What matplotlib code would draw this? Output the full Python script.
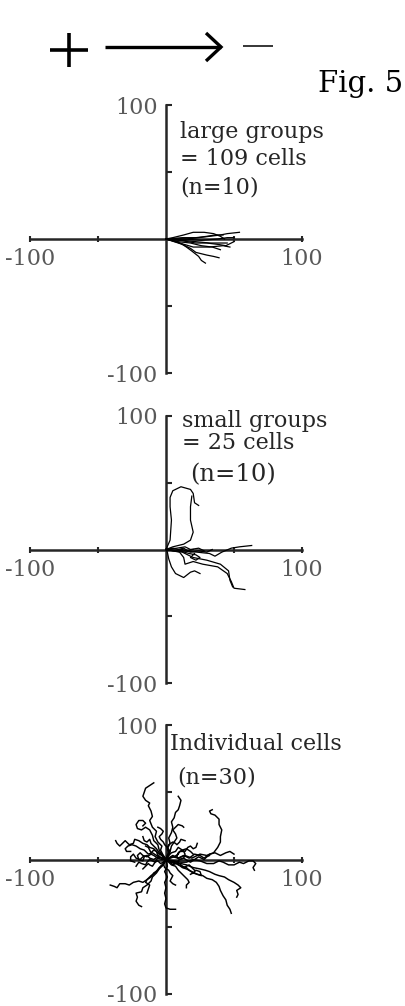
import matplotlib
matplotlib.use("Agg")
import matplotlib.pyplot as plt
from matplotlib.lines import Line2D

plt.rcParams["font.family"] = ["DejaVu Serif"]

# ── Trajectory data (µm, start at origin) ─────────────────────────────────────
LARGE_TRACKS = [
    [(0, 0), (5, 1), (13, 3), (20, 5), (28, 5), (35, 4), (40, 2), (43, 0)],
    [(0, 0), (8, 0), (15, 0), (24, 1), (32, 2), (40, 3), (45, 4), (54, 5)],
    [(0, 0), (4, -1), (8, -2), (12, -4), (15, -6), (19, -9), (24, -13), (26, -16), (29, -18)],
    [(0, 0), (6, -2), (12, -4), (18, -7), (22, -10), (30, -12), (35, -13), (39, -14)],
    [(0, 0), (10, -3), (20, -6), (32, -6), (42, -5), (47, -6)],
    [(0, 0), (12, -1), (22, -2), (32, -3), (40, -3), (45, -3)],
    [(0, 0), (14, 0), (26, -1), (38, 0), (45, 1), (50, 1)],
    [(0, 0), (10, -1), (22, -3), (30, -3), (38, -4), (44, -5), (50, -2)],
    [(0, 0), (12, 1), (22, 1), (30, 2), (36, 3), (42, 3)],
    [(0, 0), (9, -2), (18, -3), (26, -5), (34, -6), (40, -8)],
]

SMALL_TRACKS = [
    [(0, 0), (3, 7), (4, 22), (3, 32), (3, 39), (5, 44), (11, 47), (18, 45), (20, 42), (21, 35), (24, 33)],
    [(0, 0), (5, 2), (13, 4), (18, 7), (20, 13), (18, 22), (18, 32), (19, 40)],
    [(0, 0), (1, -2), (2, -7), (4, -13), (7, -18), (13, -21), (18, -17), (21, -16), (25, -18)],
    [(0, 0), (10, -2), (13, -6), (14, -11), (20, -9), (27, -11), (38, -13), (45, -18), (48, -24),
     (50, -29), (58, -30)],
    [(0, 0), (12, -2), (20, -6), (30, -8), (40, -11), (46, -16), (47, -23), (49, -28)],
    [(0, 0), (12, -1), (23, -2), (32, -3), (36, -5), (41, -2), (48, 1), (54, 2), (63, 3)],
    [(0, 0), (8, 1), (14, 2), (18, 0), (24, 1), (28, -1)],
    [(0, 0), (10, -1), (17, -3), (22, -4), (25, -6), (22, -8), (18, -6), (21, -3)],
    [(0, 0), (6, -1), (12, 0), (18, -2), (24, -1), (30, -2), (34, 0)],
    [(0, 0), (5, 1), (9, 0), (13, 1), (16, -1), (20, 0)],
]

SINGLE_TRACKS = [
    [(0, 0), (-2, 3), (-4, 7), (-3, 10), (-6, 13), (-8, 17), (-7, 21), (-10, 24), (-12, 29), (-10, 32),
     (-11, 36), (-13, 40), (-12, 42), (-15, 44), (-17, 47), (-16, 50), (-15, 53), (-12, 55), (-9, 57)],
    [(0, 0), (2, 4), (1, 8), (3, 12), (2, 16), (4, 20), (5, 24), (4, 28), (6, 31), (7, 35), (9, 37),
     (10, 40), (11, 44), (9, 47)],
    [(0, 0), (5, 3), (9, 1), (14, 3), (19, 1), (25, 4), (30, 3), (35, 5), (38, 9), (40, 13), (40, 17),
     (41, 22), (39, 26), (39, 30), (36, 33), (33, 34), (32, 36), (34, 37)],
    [(0, 0), (-3, 3), (-6, 5), (-9, 8), (-12, 9), (-14, 11), (-17, 12), (-20, 14), (-23, 15), (-24, 12),
     (-27, 11), (-30, 14), (-32, 12), (-34, 10), (-36, 12), (-37, 14)],
    [(0, 0), (-3, 3), (-5, 7), (-6, 11), (-9, 14), (-10, 18), (-12, 22), (-15, 24), (-18, 22), (-21, 23),
     (-22, 26), (-20, 29), (-17, 29), (-15, 27), (-17, 25)],
    [(0, 0), (-2, -4), (-5, -6), (-8, -10), (-11, -12), (-14, -15), (-17, -17), (-20, -16), (-24, -17),
     (-27, -19), (-30, -18), (-34, -18), (-36, -21), (-38, -20), (-41, -19)],
    [(0, 0), (-2, -4), (-5, -7), (-7, -10), (-10, -13), (-11, -16), (-14, -19), (-17, -21), (-18, -24),
     (-22, -25), (-21, -28), (-22, -31), (-20, -34), (-18, -35)],
    [(0, 0), (1, -5), (-1, -9), (1, -13), (-1, -17), (0, -21), (-1, -25), (0, -29), (-1, -33), (0, -36),
     (3, -37), (7, -37)],
    [(0, 0), (4, -2), (8, -3), (12, -6), (15, -7), (19, -9), (23, -11), (27, -12), (30, -14), (34, -15),
     (37, -17), (39, -20), (40, -23), (42, -27), (44, -30), (45, -34), (47, -37), (48, -40)],
    [(0, 0), (6, -3), (11, -3), (15, -4), (20, -6), (25, -7), (29, -8), (32, -9), (36, -11), (39, -12),
     (43, -13), (46, -15), (50, -17), (53, -19), (55, -21), (52, -23), (53, -26), (52, -28)],
    [(0, 0), (6, -1), (11, -2), (15, -2), (20, 0), (25, -1), (30, -3), (35, -3), (39, -1), (42, -2),
     (46, -4), (50, -4), (54, -2), (57, -3), (61, -1), (64, -1), (66, -3), (64, -6), (65, -8)],
    [(0, 0), (5, 2), (9, 1), (13, 3), (17, 1), (21, 4), (25, 3), (28, 1), (32, 4), (36, 5), (40, 3),
     (44, 5), (47, 6), (50, 4)],
    [(0, 0), (-2, -3), (-4, -5), (-6, -8), (-9, -10), (-11, -13), (-14, -15), (-15, -17), (-12, -19),
     (-13, -22), (-14, -25)],
    [(0, 0), (2, -2), (4, -4), (7, -5), (9, -8), (11, -10), (14, -13), (16, -15), (17, -17), (15, -19),
     (15, -21)],
    [(0, 0), (-3, 1), (-6, 2), (-9, 0), (-12, 1), (-14, 3), (-17, 2), (-19, 0), (-22, 1), (-24, 4),
     (-26, 2), (-26, -1), (-23, -2)],
    [(0, 0), (-2, 3), (-5, 5), (-7, 8), (-9, 10), (-11, 12), (-12, 15), (-14, 13), (-16, 14), (-17, 17)],
    [(0, 0), (-3, 1), (-7, 3), (-10, 5), (-13, 4), (-16, 7), (-19, 8), (-22, 10), (-25, 11), (-28, 10),
     (-30, 8), (-29, 6), (-26, 6)],
    [(0, 0), (2, 3), (4, 5), (7, 6), (9, 9), (12, 7), (14, 6), (16, 9), (18, 10), (20, 8), (22, 9), (23, 12)],
    [(0, 0), (-2, 2), (-3, 4), (-6, 3), (-7, 6), (-9, 7), (-11, 5), (-12, 7), (-13, 9), (-15, 10)],
    [(0, 0), (3, -2), (5, -4), (7, -3), (9, -2), (11, -4), (13, -6), (15, -5), (17, -4), (19, -6), (21, -8)],
    [(0, 0), (-2, -2), (-4, -3), (-6, -1), (-8, -2), (-10, -5), (-12, -4), (-13, -3), (-15, -5), (-17, -7)],
    [(0, 0), (2, 3), (3, 6), (1, 9), (2, 11), (5, 13), (7, 12), (8, 11), (10, 13), (11, 15), (14, 14)],
    [(0, 0), (-2, -3), (-1, -6), (2, -8), (3, -10), (5, -12), (4, -14), (3, -16), (5, -18), (7, -19)],
    [(0, 0), (3, 1), (6, 2), (9, 4), (10, 6), (13, 6), (14, 4), (13, 1), (10, 0), (8, 2), (9, 5), (12, 7),
     (15, 8), (18, 6), (20, 4)],
    [(0, 0), (-2, 1), (-5, 2), (-7, 0), (-8, -2), (-10, -1), (-12, 0), (-14, -2), (-15, -4), (-18, -3),
     (-20, -2), (-22, -5)],
    [(0, 0), (1, 3), (2, 6), (1, 9), (-1, 11), (-2, 13), (-4, 15), (-5, 17), (-3, 19), (-2, 21), (-4, 23),
     (-6, 24)],
    [(0, 0), (4, -1), (8, -2), (10, 0), (13, 1), (16, -1), (18, -2), (21, 0), (24, 2), (26, 1), (28, 0),
     (30, 2), (32, 3)],
    [(0, 0), (-3, 0), (-6, 1), (-9, 3), (-11, 4), (-14, 2), (-17, 3), (-19, 5), (-21, 3), (-20, 0),
     (-17, -1), (-16, 2)],
    [(0, 0), (3, -1), (6, -2), (9, -4), (12, -5), (15, -6), (17, -8), (20, -10), (23, -11), (26, -12),
     (25, -9), (22, -8), (20, -10), (18, -11)],
    [(0, 0), (1, 3), (3, 6), (4, 10), (6, 13), (8, 16), (7, 19), (5, 22), (7, 24), (9, 26), (12, 25),
     (13, 24)],
]

PANEL_TRACKS = [LARGE_TRACKS, SMALL_TRACKS, SINGLE_TRACKS]
TRACK_WIDTHS = [0.9, 0.9, 1.05]

# label lines: (text, x, baseline y, fontsize) in data units
PANEL_LABELS = [
    [("large groups", 10.3, 75.4, 16), ("= 109 cells", 10.3, 55.2, 16), ("(n=10)", 10.3, 34.3, 16)],
    [("small groups", 11.8, 91.4, 16), ("= 25 cells", 11.8, 75.0, 16), ("(n=10)", 17.6, 50.9, 17.5)],
    [("Individual cells", 2.9, 81.2, 16), ("(n=30)", 8.1, 56.8, 16)],
]

W, H = 406, 1006
# axes boxes in pixels (left, top, right, bottom)
PANEL_BOXES = [(30, 105, 302, 373), (30, 416, 302, 683), (30, 725, 302, 994)]

AX_COLOR = "#262626"
TICK_COLOR = "#595959"

fig = plt.figure(figsize=(W / 100, H / 100), dpi=100)


def fx(x):
    return x / W


def fy(y):
    return 1 - y / H


for box, tracks, lw, labels in zip(PANEL_BOXES, PANEL_TRACKS, TRACK_WIDTHS, PANEL_LABELS):
    l, t, r, b = box
    ax = fig.add_axes([fx(l), fy(b), (r - l) / W, (b - t) / H])
    ax.set_xlim(-100, 100)
    ax.set_ylim(-100, 100)
    ax.patch.set_visible(False)
    for s in ["top", "right"]:
        ax.spines[s].set_visible(False)
    for s in ["left", "bottom"]:
        ax.spines[s].set_position(("data", 0))
        ax.spines[s].set_linewidth(1.8)
        ax.spines[s].set_color(AX_COLOR)
    ax.set_xticks([-100, -50, 50, 100])
    ax.set_xticklabels(["-100", "", "", "100"])
    ax.set_yticks([-100, -50, 50, 100])
    ax.set_yticklabels(["-100", "", "", "100"], va="center_baseline")
    ax.tick_params(axis="x", direction="inout", length=5, width=1.5, color=AX_COLOR,
                   labelsize=16, labelcolor=TICK_COLOR, pad=4)
    ax.tick_params(axis="y", direction="in", length=4, width=1.5, color=AX_COLOR,
                   labelsize=16, labelcolor=TICK_COLOR, pad=6)

    for tr in tracks:
        xs = [p[0] for p in tr]
        ys = [p[1] for p in tr]
        ax.plot(xs, ys, color="black", lw=lw, zorder=3, solid_joinstyle="round")

    for txt, x, y, fs in labels:
        ax.text(x, y, txt, fontsize=fs, color=AX_COLOR, va="baseline", ha="left")

# ── Header: + ──> −   and figure label ───────────────────────────────────────
def hline(x0, x1, y, lw):
    fig.add_artist(Line2D([fx(x0), fx(x1)], [fy(y), fy(y)], transform=fig.transFigure,
                          color="black", lw=lw, solid_capstyle="butt"))

hline(50, 88, 50, 2.6)
fig.add_artist(Line2D([fx(69), fx(69)], [fy(33), fy(67)], transform=fig.transFigure,
                      color="black", lw=2.6, solid_capstyle="butt"))
hline(105, 221, 47, 2.4)
fig.add_artist(Line2D([fx(206), fx(221), fx(206)], [fy(33), fy(47), fy(61)],
                      transform=fig.transFigure, color="black", lw=2.4,
                      solid_joinstyle="miter", solid_capstyle="butt"))
hline(243, 273, 46, 1.1)

fig.text(fx(318), fy(92), "Fig. 5", fontsize=21, color="black", va="baseline", ha="left")

fig.savefig("out.png", dpi=100)
